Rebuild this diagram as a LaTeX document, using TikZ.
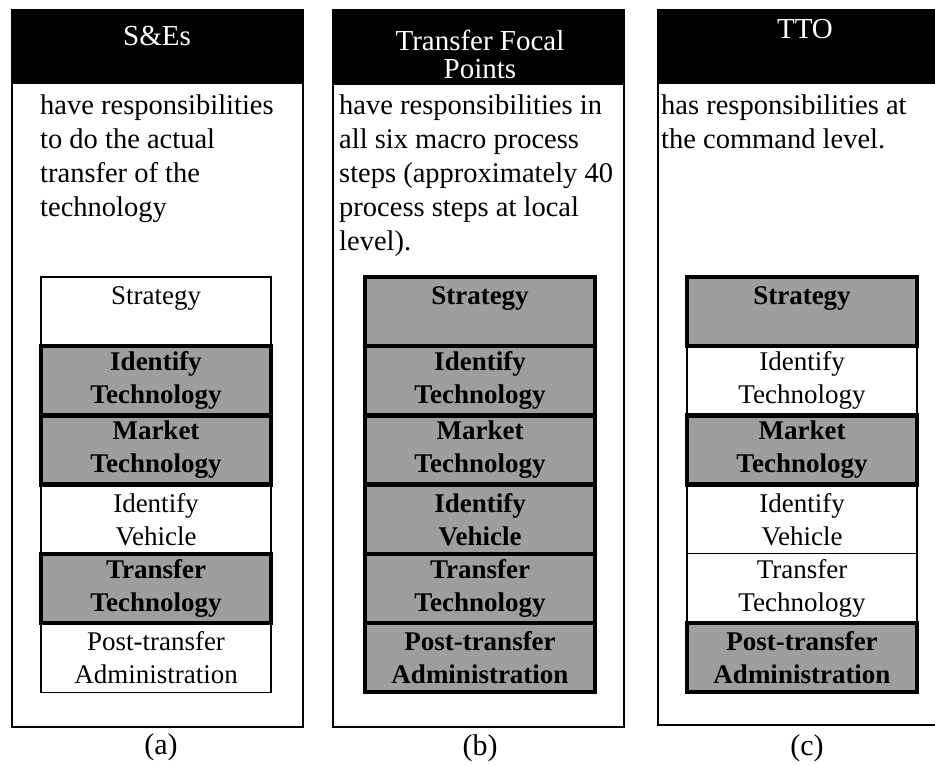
\documentclass[tikz,border=0pt]{standalone}
\usepackage{fontspec}
\setmainfont{Liberation Serif}
\tikzset{
  panel/.style={line width=1.3},
  header/.style={fill=black},
  title/.style={text=white,align=center,inner sep=0,font=\fontsize{29}{28}\selectfont},
  blurb/.style={anchor=north west,align=left,inner sep=0,font=\fontsize{28.5}{34}\selectfont},
  plainbox/.style={draw,line width=1.2,minimum width=230pt,minimum height=69.2pt,align=center,inner sep=0,font=\fontsize{27}{33}\selectfont},
  focusbox/.style={plainbox,fill=black!38,line width=4.5,font=\fontsize{27}{33}\selectfont\bfseries},
  tag/.style={inner sep=0,font=\fontsize{30}{30}\selectfont}
}
\begin{document}
\begin{tikzpicture}[x=1pt,y=-1pt]
			\useasboundingbox[fill=white] (0,0) rectangle (935,764);
			% (a) S&Es
			\draw[panel] (12,10) rectangle (303,727);
			\fill[header] (12,10) rectangle (303,84);
			\node[title,anchor=base] (titleA) at (157,45) {S\&Es};
			\node[blurb] (blurbA) at (40,95) {have responsibilities\\to do the actual\\transfer of the\\technology};
			\node[plainbox] (a1) at (156,311.6) {Strategy\\\mbox{}};
			\node[focusbox] (a2) at (156,380.8) {Identify\\Technology};
			\node[focusbox] (a3) at (156,450) {Market\\Technology};
			\node[plainbox] (a4) at (156,519.2) {Identify\\Vehicle};
			\node[focusbox] (a5) at (156,588.4) {Transfer\\Technology};
			\node[plainbox] (a6) at (156,657.6) {Post-transfer\\Administration};
			\node[tag] (tagA) at (161,747) {(a)};
			% (b) Transfer Focal Points
			\draw[panel] (333,10) rectangle (624,727);
			\fill[header] (333,10) rectangle (624,85);
			\node[title] (titleB) at (480,54) {Transfer Focal\\Points};
			\node[blurb] (blurbB) at (339,95) {have responsibilities in\\all six macro process\\steps (approximately 40\\process steps at local\\level).};
			\node[focusbox] (b1) at (480,311.6) {Strategy\\\mbox{}};
			\node[focusbox] (b2) at (480,380.8) {Identify\\Technology};
			\node[focusbox] (b3) at (480,450) {Market\\Technology};
			\node[focusbox] (b4) at (480,519.2) {Identify\\Vehicle};
			\node[focusbox] (b5) at (480,588.4) {Transfer\\Technology};
			\node[focusbox] (b6) at (480,657.6) {Post-transfer\\Administration};
			\node[tag] (tagB) at (480,748) {(b)};
			% (c) TTO
			\draw[panel] (940,725) -- (658,725) -- (658,10) -- (940,10);
			\fill[header] (658,10) rectangle (940,84);
			\node[title,anchor=base] (titleC) at (805,38) {TTO};
			\node[blurb] (blurbC) at (661,95) {has responsibilities at\\the command level.};
			\node[focusbox] (c1) at (802,311.6) {Strategy\\\mbox{}};
			\node[plainbox] (c2) at (802,380.8) {Identify\\Technology};
			\node[focusbox] (c3) at (802,450) {Market\\Technology};
			\node[plainbox] (c4) at (802,519.2) {Identify\\Vehicle};
			\node[plainbox] (c5) at (802,588.4) {Transfer\\Technology};
			\node[focusbox] (c6) at (802,657.6) {Post-transfer\\Administration};
			\node[tag] (tagC) at (807,748) {(c)};
\end{tikzpicture}
\end{document}
